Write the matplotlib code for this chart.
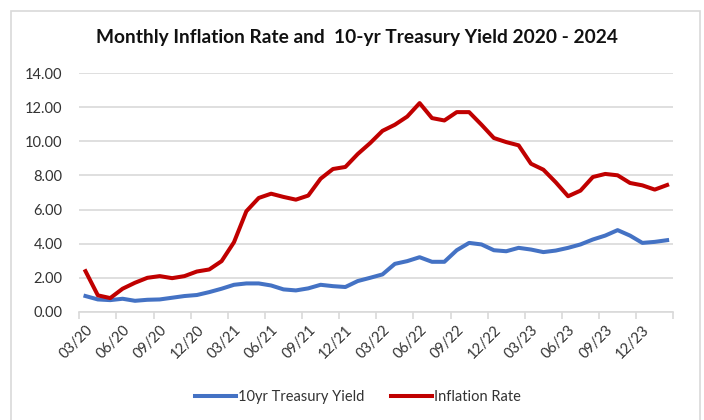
import matplotlib
matplotlib.use("Agg")
import matplotlib.pyplot as plt
import numpy as np

# monthly values, 03/20 .. 02/24
months = ["03/20", "04/20", "05/20", "06/20", "07/20", "08/20", "09/20", "10/20", "11/20", "12/20",
          "01/21", "02/21", "03/21", "04/21", "05/21", "06/21", "07/21", "08/21", "09/21", "10/21",
          "11/21", "12/21", "01/22", "02/22", "03/22", "04/22", "05/22", "06/22", "07/22", "08/22",
          "09/22", "10/22", "11/22", "12/22", "01/23", "02/23", "03/23", "04/23", "05/23", "06/23",
          "07/23", "08/23", "09/23", "10/23", "11/23", "12/23", "01/24", "02/24"]

treasury_yield = [0.92, 0.72, 0.68, 0.76, 0.64, 0.70, 0.72, 0.82, 0.92, 0.98,
                  1.15, 1.35, 1.58, 1.66, 1.66, 1.54, 1.31, 1.25, 1.37, 1.58,
                  1.50, 1.45, 1.80, 1.99, 2.19, 2.81, 2.97, 3.20, 2.93, 2.93,
                  3.61, 4.04, 3.95, 3.61, 3.55, 3.75, 3.65, 3.50, 3.59, 3.75,
                  3.95, 4.24, 4.47, 4.79, 4.47, 4.04, 4.10, 4.20]

inflation_rate = [2.38, 0.96, 0.80, 1.35, 1.70, 1.99, 2.09, 1.97, 2.09, 2.36,
                  2.48, 2.97, 4.08, 5.90, 6.68, 6.93, 6.74, 6.58, 6.82, 7.81,
                  8.38, 8.50, 9.26, 9.90, 10.62, 10.98, 11.46, 12.25, 11.37, 11.23,
                  11.72, 11.72, 10.98, 10.20, 9.96, 9.77, 8.69, 8.34, 7.60, 6.78,
                  7.11, 7.91, 8.09, 8.01, 7.56, 7.42, 7.17, 7.44]

font = "Lato"
text_col = "#333333"
grid_col = "#d9d9d9"

fig = plt.figure(figsize=(7.04, 4.2), dpi=100)
ax = fig.add_axes([79.3 / 704, 1 - 311.7 / 420, (673.3 - 79.3) / 704, (311.7 - 73.3) / 420])

# chart area border
fig.patches.append(plt.Rectangle((11 / 704, -0.1), (700 - 11) / 704, 1.1 - 11 / 420,
                                 transform=fig.transFigure, fill=False,
                                 edgecolor=grid_col, linewidth=1.2))

x = np.arange(len(months))
ax.plot(x, treasury_yield, color="#4472C4", linewidth=2.9, label="10yr Treasury Yield",
        solid_joinstyle="round")
ax.plot(x, inflation_rate, color="#C00000", linewidth=2.9, label="Inflation Rate",
        solid_joinstyle="round")

ax.set_xlim(-0.5, len(months) - 0.5)
ax.set_ylim(0, 14)
ax.set_yticks(np.arange(0, 15, 2))
ax.set_yticklabels([f"{v:.2f}" for v in np.arange(0, 15, 2)], fontfamily=font,
                   fontsize=10.5, color=text_col)
ax.yaxis.grid(True, color=grid_col, linewidth=1.2)
ax.set_axisbelow(True)
ax.tick_params(axis="y", length=0, pad=12)

ax.set_xticks(x[::3])
ax.set_xticklabels(months[::3], rotation=45, ha="right", rotation_mode="anchor",
                   fontfamily=font, fontsize=10.5, color=text_col)
ax.set_xticks(np.arange(-0.5, len(months), 3), minor=True)
ax.tick_params(axis="x", which="major", length=0, pad=8)
ax.tick_params(axis="x", which="minor", length=5, color=grid_col, width=1.2)

for side in ["top", "right", "left"]:
    ax.spines[side].set_visible(False)
ax.spines["bottom"].set_color(grid_col)
ax.spines["bottom"].set_linewidth(1.2)

fig.text(357 / 704, 1 - 37 / 420, "Monthly Inflation Rate and  10-yr Treasury Yield 2020 - 2024",
         ha="center", va="center", fontfamily=font, fontweight="bold", fontsize=13.8,
         color="#111111")

leg = fig.legend(loc="center", bbox_to_anchor=(358 / 704, 1 - 397 / 420), ncol=2,
                 frameon=False, prop={"family": font, "size": 10.5},
                 handlelength=2.8, handletextpad=0.15, columnspacing=1.8)
for t in leg.get_texts():
    t.set_color(text_col)

fig.savefig("out.png", dpi=100)
